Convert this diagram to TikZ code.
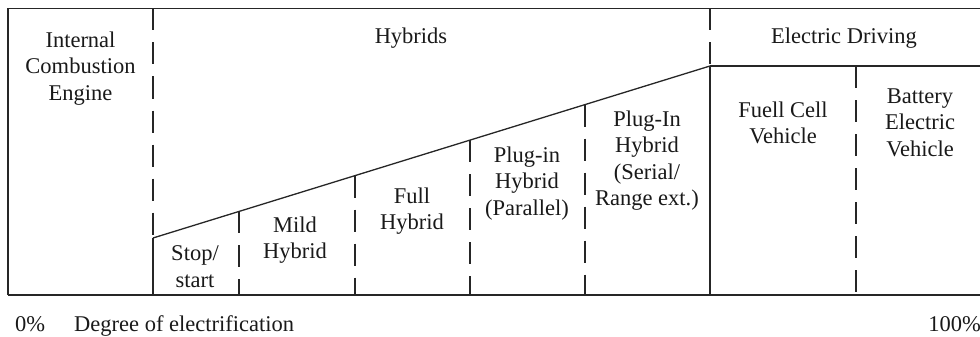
\documentclass[tikz,border=0pt]{standalone}
\usepackage{fontspec}
\setmainfont{Liberation Serif}
\begin{document}
\begin{tikzpicture}[x=1pt,y=-1pt,
  frame/.style={line width=1.3pt,black!85},
  thick frame/.style={line width=2.2pt,black!85},
  dashline/.style={line width=1.3pt,black!85,dash pattern=on 22pt off 12pt},
  lbl/.style={anchor=base,align=center,inner sep=0pt,font=\fontsize{22.5}{26.5}\selectfont,text=black!90}]
\useasboundingbox (0,0) rectangle (980,337);
% coordinates
\coordinate (tl) at (8,8.5);
\coordinate (tr) at (980,8.5);
\coordinate (bl) at (8,295);
\coordinate (br) at (980,295);
\coordinate (h0) at (153,8.5);
\coordinate (s0) at (153,238);
\coordinate (h0b) at (153,295);
\coordinate (s1) at (710,66);
\coordinate (e0) at (710,8.5);
\coordinate (e0b) at (710,295);
\coordinate (er) at (980,66);
\coordinate (d1t) at (239,211.4);
\coordinate (d1b) at (239,295);
\coordinate (d2t) at (355,175.6);
\coordinate (d2b) at (355,295);
\coordinate (d3t) at (470,140.1);
\coordinate (d3b) at (470,295);
\coordinate (d4t) at (585,104.6);
\coordinate (d4b) at (585,295);
\coordinate (d5t) at (856,66);
\coordinate (d5b) at (856,295);
% frame
\draw[frame] (bl) -- (tl) -- (tr);
\draw[thick frame] (bl) -- (br);
\draw[dashline] (h0) -- (s0);
\draw[frame] (s0) -- (h0b);
\draw[frame] (s0) -- (s1);
\draw[dashline] (e0) -- (s1);
\draw[frame] (s1) -- (e0b);
\draw[frame] (s1) -- (er);
\draw[dashline] (d1t) -- (d1b);
\draw[dashline] (d2t) -- (d2b);
\draw[dashline] (d3t) -- (d3b);
\draw[dashline] (d4t) -- (d4b);
\draw[dashline] (d5t) -- (d5b);
% labels (anchor = baseline of last line)
\node[lbl] (ice) at (80.5,100) {Internal\\Combustion\\Engine};
\node[lbl] (hyb) at (411,44) {Hybrids};
\node[lbl] (ed) at (844,44) {Electric Driving};
\node[lbl] (ss) at (195,287) {Stop/\\start};
\node[lbl] (mh) at (295,258.5) {Mild\\Hybrid};
\node[lbl] (fh) at (412,229.5) {Full\\Hybrid};
\node[lbl] (php) at (527,215) {Plug-in\\Hybrid\\(Parallel)};
\node[lbl] (phs) at (647,205.5) {Plug-In\\Hybrid\\(Serial/\\Range ext.)};
\node[lbl] (fc) at (783,143.5) {Fuell Cell\\Vehicle};
\node[lbl] (bev) at (920,156) {Battery\\Electric\\Vehicle};
\node[lbl,anchor=base west] (p0) at (15,331) {0\%};
\node[lbl,anchor=base west] (deg) at (74,331) {Degree of electrification};
\node[lbl,anchor=base east] (p100) at (981,331) {100\%};
\end{tikzpicture}
\end{document}
